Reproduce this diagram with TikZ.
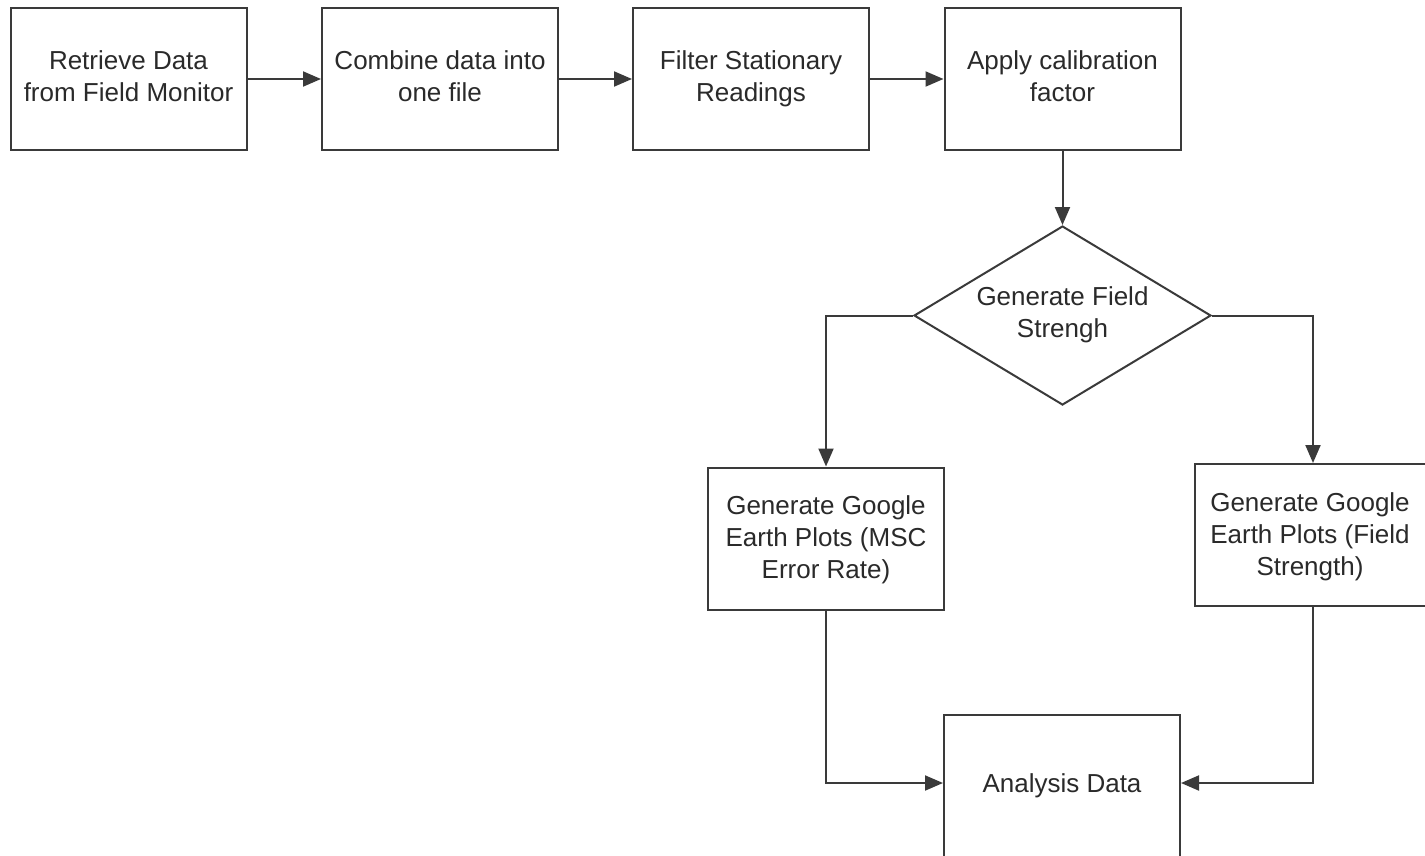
\documentclass[tikz,border=0pt]{standalone}
\usepackage{fontspec}
\setmainfont{Liberation Sans}
\usetikzlibrary{arrows.meta,shapes.geometric}
\definecolor{linec}{HTML}{3A3A3A}
\definecolor{textc}{HTML}{2A2A2A}
\tikzset{
  lbl/.style={align=center, text=textc, font=\fontsize{26}{32}\selectfont, inner sep=0pt},
  procbox/.style={draw=linec, line width=2pt, fill=white, minimum width=236pt, minimum height=142pt},
  decbox/.style={draw=linec, line width=2pt, fill=white, diamond, minimum width=297pt, minimum height=179pt, aspect=1.66, inner sep=0pt},
  conn/.style={draw=linec, line width=2pt, -{Triangle[length=18pt,width=15pt]}}
}
\begin{document}
\begin{tikzpicture}[x=1pt,y=-1pt]
\useasboundingbox (0,0) rectangle (1425,855);
\clip (0,0) rectangle (1425,855);
\node[procbox] (b1) at (128.5,79) {};
\node[procbox] (b2) at (440,79) {};
\node[procbox] (b3) at (751,79) {};
\node[procbox] (b4) at (1062.5,79) {};
\node[decbox] (d) at (1062.5,315.5) {};
\node[procbox] (b5) at (826,538.5) {};
\node[procbox] (b6) at (1313,535) {};
\node[procbox] (b7) at (1062,786) {};
\node[lbl] (t1) at (128.5,79) {Retrieve Data\strut\\from Field Monitor\strut};
\node[lbl] (t2) at (440,79) {Combine data into\strut\\one file\strut};
\node[lbl] (t3) at (751,79) {Filter Stationary\strut\\Readings\strut};
\node[lbl] (t4) at (1062.5,79) {Apply calibration\strut\\factor\strut};
\node[lbl] (dt) at (1062.5,315) {Generate Field\strut\\Strengh\strut};
\node[lbl] (t5) at (826,540.5) {Generate Google\strut\\Earth Plots (MSC\strut\\Error Rate)\strut};
\node[lbl] (t6) at (1310,537.5) {Generate Google\strut\\Earth Plots (Field\strut\\Strength)\strut};
\node[lbl] (t7) at (1062,786) {Analysis Data\strut};
\coordinate (j7l) at (943,783);
\coordinate (j7r) at (1181,783);
\draw[conn] (b1.east) -- (b2.west);
\draw[conn] (b2.east) -- (b3.west);
\draw[conn] (b3.east) -- (b4.west);
\draw[conn] (b4.south) -- (d.north);
\draw[conn] (d.west) -| (b5.north);
\draw[conn] (d.east) -| (b6.north);
\draw[conn] (b5.south) |- (j7l);
\draw[conn] (b6.south) |- (j7r);
\end{tikzpicture}
\end{document}
